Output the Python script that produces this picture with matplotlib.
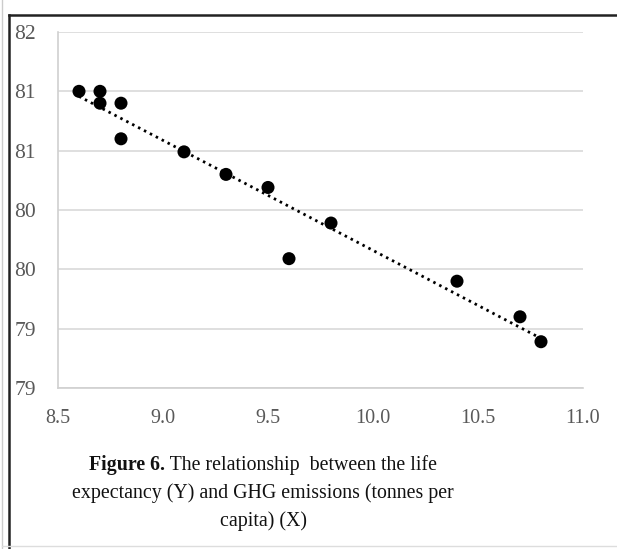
import numpy as np
import matplotlib
matplotlib.use("Agg")
import matplotlib.pyplot as plt
from matplotlib.lines import Line2D

# Data
ghg = [8.6, 8.7, 8.7, 8.8, 8.8, 9.1, 9.3, 9.5, 9.6, 9.8, 10.4, 10.7, 10.8]
life = [81.25, 81.25, 81.15, 81.15, 80.85, 80.74, 80.55, 80.44, 79.84, 80.14, 79.65, 79.35, 79.14]

x_ticks = [8.5, 9.0, 9.5, 10.0, 10.5, 11.0]
x_labels = ["8.5", "9.0", "9.5", "10.0", "10.5", "11.0"]
y_ticks = [78.75, 79.25, 79.75, 80.25, 80.75, 81.25, 81.75]
y_labels = ["79", "79", "80", "80", "81", "81", "82"]

caption_bold = "Figure 6."
caption_line1 = " The relationship  between the life"
caption_line2 = "expectancy (Y) and GHG emissions (tonnes per"
caption_line3 = "capita) (X)"

plt.rcParams['font.family'] = ['Liberation Serif', 'DejaVu Serif']

W, H = 617, 549
fig = plt.figure(figsize=(W / 100, H / 100), dpi=100)
ax = fig.add_axes([58 / W, 1 - 388 / H, (583 - 58) / W, (388 - 32) / H])

ax.set_xlim(8.5, 11.0)
ax.set_ylim(78.75, 81.75)
ax.set_xticks(x_ticks)
ax.set_xticklabels(x_labels)
ax.set_yticks(y_ticks)
ax.set_yticklabels(y_labels)
ax.tick_params(axis='both', length=0, colors='#595959')
ax.tick_params(axis='x', pad=15, labelsize=14.5)
ax.tick_params(axis='y', pad=16, labelsize=15.5)
ax.grid(axis='y', color='#d9d9d9', linewidth=1.2)
ax.set_axisbelow(True)
for s in ['top', 'right']:
    ax.spines[s].set_visible(False)
for s in ['left', 'bottom']:
    ax.spines[s].set_color('#d0d0d0')
    ax.spines[s].set_linewidth(1.2)

# Linear trend line
coef = np.polyfit(ghg, life, 1)
xs = np.array([min(ghg), max(ghg)])
ax.plot(xs, np.polyval(coef, xs), color='black', linewidth=2.0,
        linestyle=(0, (0.9, 1.5)), zorder=2)

ax.scatter(ghg, life, s=88, color='black', zorder=3, edgecolors='none')

# Frame lines
fig.add_artist(Line2D([9 / W, 1.0], [1 - 15 / H, 1 - 15 / H], color='#222222', lw=1.8))
fig.add_artist(Line2D([9 / W, 9 / W], [0, 1 - 15 / H], color='#222222', lw=1.8))
fig.add_artist(Line2D([2 / W, 2 / W], [0, 1], color='#cccccc', lw=1.0))
fig.add_artist(Line2D([2 / W, 1.0], [3 / H, 3 / H], color='#dddddd', lw=1.0))

# Caption
fig.canvas.draw()
r = fig.canvas.get_renderer()
cx = 263 / W
fs = 14.3
tb = fig.text(0, 1 - 465 / H, caption_bold, fontsize=fs, fontweight='bold', va='center', ha='left', color='#111111')
tn = fig.text(0, 1 - 465 / H, caption_line1, fontsize=fs, va='center', ha='left', color='#111111')
wb = tb.get_window_extent(r).width
wn = tn.get_window_extent(r).width
start = cx * W - (wb + wn) / 2
tb.set_x(start / W)
tn.set_x((start + wb) / W)
fig.text(cx, 1 - 493 / H, caption_line2, fontsize=fs, va='center', ha='center', color='#111111')
fig.text(cx, 1 - 521 / H, caption_line3, fontsize=fs, va='center', ha='center', color='#111111')

fig.savefig('out.png', dpi=100)
